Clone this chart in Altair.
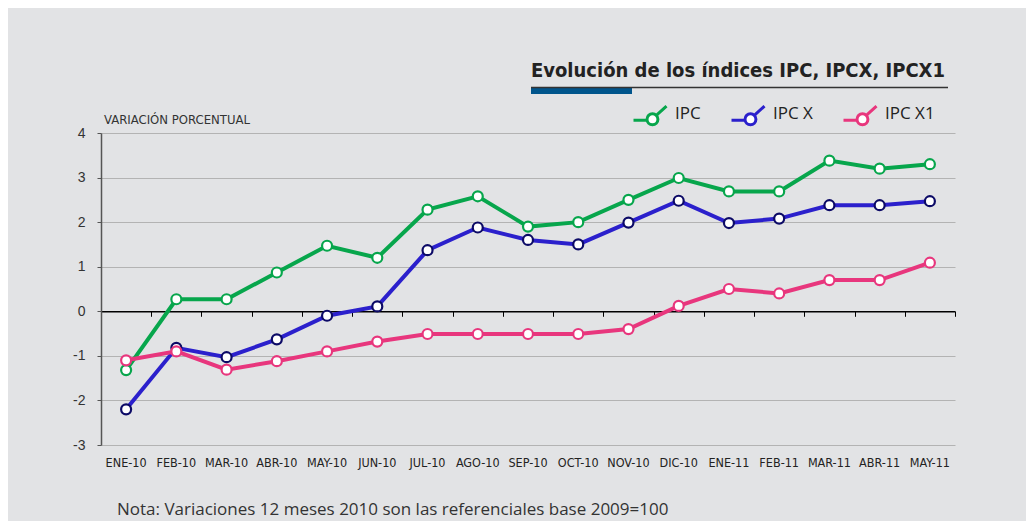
import altair as alt
import pandas as pd

months = ["ENE-10", "FEB-10", "MAR-10", "ABR-10", "MAY-10", "JUN-10", "JUL-10", "AGO-10",
          "SEP-10", "OCT-10", "NOV-10", "DIC-10", "ENE-11", "FEB-11", "MAR-11", "ABR-11", "MAY-11"]
ipc = [-1.32, 0.27, 0.27, 0.87, 1.47, 1.2, 2.28, 2.58, 1.9, 2.0, 2.5, 2.99, 2.69, 2.69, 3.38, 3.2, 3.3]
ipcx = [-2.2, -0.82, -1.03, -0.63, -0.1, 0.11, 1.37, 1.88, 1.6, 1.5, 1.99, 2.48, 1.98, 2.08, 2.38, 2.38, 2.47]
ipcx1 = [-1.1, -0.9, -1.31, -1.12, -0.9, -0.68, -0.51, -0.51, -0.51, -0.51, -0.4, 0.12, 0.5, 0.4, 0.7, 0.7, 1.09]
series = ["IPC", "IPC X", "IPC X1"]
y_ticks = [-3, -2, -1, 0, 1, 2, 3, 4]

title_text = "Evolución de los índices IPC, IPCX, IPCX1"
ytitle_text = "VARIACIÓN PORCENTUAL"
note_text = "Nota: Variaciones 12 meses 2010 son las referenciales base 2009=100"

line_colors = ["#07A64C", "#2B20CC", "#E8367D"]
marker_strokes = ["#07A64C", "#0C0A66", "#E8367D"]

rows = []
for name, vals in zip(series, [ipc, ipcx, ipcx1]):
    for m, v in zip(months, vals):
        rows.append({"mes": m, "serie": name, "valor": v})
df = pd.DataFrame(rows)

W, H = 854, 312
NARROW = "DejaVu Sans Condensed, Liberation Sans Narrow, sans-serif"
SANS = "Open Sans, Noto Sans, sans-serif"

xscale = alt.Scale(type="band", domain=months, paddingInner=0, paddingOuter=0)
yscale = alt.Scale(domain=[-3, 4], nice=False, zero=False)

yaxis = alt.Axis(values=y_ticks, labelExpr="'' + datum.value", grid=True,
                 gridColor="#B3B3B3", gridWidth=1, domainColor="#555555",
                 domainWidth=1.5, tickColor="#555555", tickSize=4, labelPadding=12,
                 labelFont="Liberation Sans, Arial, sans-serif", labelFontSize=14,
                 labelColor="#333333", title=None)

legend_path = ("M-1,0.36 L-0.2,0.36 M0.38,0.07 L1,-0.5 "
               "M-0.18,0.3 A0.33,0.33 0 1,0 0.48,0.3 A0.33,0.33 0 1,0 -0.18,0.3 Z")

lines = alt.Chart(df).mark_line(strokeWidth=4).encode(
    x=alt.X("mes:N", scale=xscale, sort=months,
            axis=alt.Axis(orient="bottom", offset=-H * 3 / 7, labels=False, domain=True,
                          domainColor="black", domainWidth=1.5, ticks=True, tickColor="black",
                          tickSize=5, tickWidth=1, tickBand="extent", grid=False, title=None)),
    y=alt.Y("valor:Q", scale=yscale, axis=yaxis),
    color=alt.Color("serie:N", scale=alt.Scale(domain=series, range=line_colors),
                    legend=alt.Legend(orient="none", legendX=531, legendY=-37,
                                      direction="horizontal", title=None,
                                      symbolType=legend_path, symbolSize=1089,
                                      symbolStrokeWidth=3, symbolFillColor="white",
                                      labelFont=SANS, labelFontSize=17, labelColor="#222222",
                                      labelOffset=7, columnPadding=24, padding=0)),
    detail="serie:N",
)

points = alt.Chart(df).mark_point(shape="circle", filled=False, fill="white", size=100,
                                  strokeWidth=2.2, opacity=1).encode(
    x=alt.X("mes:N", scale=xscale, sort=months,
            axis=alt.Axis(orient="bottom", domain=False, ticks=False, grid=False,
                          labelAngle=0, labelFont=NARROW, labelFontSize=12.5,
                          labelColor="#222222", labelPadding=11, title=None)),
    y=alt.Y("valor:Q", scale=yscale, axis=yaxis),
    stroke=alt.Stroke("serie:N", scale=alt.Scale(domain=series, range=marker_strokes),
                      legend=None),
)

title = alt.Chart(pd.DataFrame({"t": [title_text]})).mark_text(
    font=NARROW, fontSize=20, fontWeight="bold", color="#222222", align="right",
    baseline="alphabetic").encode(text="t:N", x=alt.value(844), y=alt.value(-56))

underline = alt.Chart(pd.DataFrame({"t": [title_text]})).mark_rule(
    color="#333333", strokeWidth=1.5).encode(x=alt.value(430), x2=alt.value(847),
                                             y=alt.value(-45.5))
bluebar = alt.Chart(pd.DataFrame({"t": [title_text]})).mark_rect(color="#00558C").encode(
    x=alt.value(430), x2=alt.value(531), y=alt.value(-45), y2=alt.value(-39))

ytitle = alt.Chart(pd.DataFrame({"t": [ytitle_text]})).mark_text(
    font=NARROW, fontSize=13, color="#333333", align="left", baseline="alphabetic").encode(
    text="t:N", x=alt.value(3), y=alt.value(-9))

note = alt.Chart(pd.DataFrame({"t": [note_text]})).mark_text(
    font=SANS, fontSize=17, color="#333333", align="left", baseline="alphabetic").encode(
    text="t:N", x=alt.value(16), y=alt.value(382))

chart = alt.layer(lines, points, bluebar, underline, title, ytitle, note).resolve_axis(
    x="independent").resolve_scale(color="independent").properties(
    width=W, height=H,
    padding={"left": 93, "top": 125, "right": 71, "bottom": 76},
    autosize=alt.AutoSizeParams(type="none"),
    background="#E2E3E5",
).configure_view(stroke=None)

chart.save("out.html", embed_options={"renderer": "svg", "actions": False})
